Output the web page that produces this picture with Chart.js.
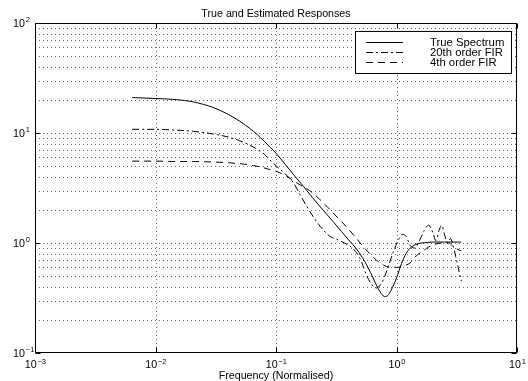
<!DOCTYPE html>
<html>
<head>
<meta charset="utf-8">
<script src="https://cdn.jsdelivr.net/npm/chart.js@4/dist/chart.umd.min.js"></script>
<style>
html,body{margin:0;padding:0;background:#fff;}
#wrap{width:528px;height:381px;position:relative;}
</style>
</head>
<body>
<div id="wrap"><canvas id="c" width="528" height="381"></canvas></div>
<script>
// ---- data ----
const trueFreq = [0.0064,0.01,0.015,0.02,0.025,0.03,0.04,0.05,0.06,0.07,0.08,0.09,0.1,0.12,0.142,0.17,0.2,0.25,0.3,0.35,0.4,0.46,0.52,0.58,0.64,0.7,0.75,0.8,0.85,0.9,0.95,1.0,1.05,1.1,1.2,1.3,1.45,1.6,1.8,2.0,2.5,3.0,3.45];
const trueMag  = [21,20.6,20.1,19.3,18.2,17.1,14.8,12.8,11.1,9.65,8.4,7.4,6.55,5.15,4.1,3.25,2.6,1.95,1.55,1.27,1.07,0.9,0.74,0.6,0.48,0.39,0.345,0.325,0.335,0.37,0.42,0.48,0.56,0.65,0.8,0.9,0.97,1.0,1.01,1.02,1.02,1.02,1.02];

const fir20Freq = [0.0064,0.01,0.015,0.02,0.03,0.04,0.05,0.06,0.07,0.08,0.095,0.115,0.139,0.16,0.18,0.21,0.247,0.28,0.32,0.37,0.43,0.5,0.56,0.62,0.68,0.74,0.8,0.87,0.95,1.03,1.12,1.2,1.3,1.42,1.55,1.7,1.85,2.0,2.12,2.25,2.38,2.5,2.65,2.8,2.95,3.1,3.25,3.45];
const fir20Mag  = [10.8,10.8,10.6,10.4,9.8,9.2,8.5,7.8,7.1,6.4,5.3,4.4,3.55,2.7,2.15,1.65,1.31,1.15,1.08,1.0,0.9,0.72,0.52,0.42,0.39,0.42,0.5,0.65,0.85,1.05,1.2,1.15,0.95,0.9,1.05,1.3,1.45,1.25,1.05,1.3,1.45,1.2,1.0,1.1,0.95,0.75,0.6,0.45];

const fir4Freq = [0.0064,0.01,0.015,0.02,0.03,0.042,0.055,0.065,0.075,0.086,0.1,0.12,0.139,0.16,0.19,0.23,0.27,0.33,0.39,0.45,0.52,0.6,0.68,0.78,0.9,1.0,1.15,1.3,1.47,1.67,1.85,2.05,2.4,2.7,2.95,3.2,3.45];
const fir4Mag  = [5.55,5.55,5.5,5.5,5.45,5.35,5.2,5.05,4.9,4.7,4.5,4.1,3.7,3.35,3.0,2.5,2.1,1.67,1.38,1.15,0.95,0.8,0.7,0.63,0.6,0.6,0.62,0.66,0.77,0.85,0.92,0.97,1.0,1.0,0.93,0.88,0.85];

const seriesNames = ['True Spectrum','20th order FIR','4th order FIR'];
const xTickExponents = [-3,-2,-1,0,1];
const yTickExponents = [-1,0,1,2];
const titleText = 'True and Estimated Responses';
const xAxisTitle = 'Frequency (Normalised)';

// ---- styles ----
const FONT = '"Liberation Sans", Arial, Helvetica, sans-serif';
const dashStyles = [[], [7,3,2,3], [7,5]];

function pts(fx, fy){ return fx.map((f,i)=>({x:f,y:fy[i]})); }

function supLabel(ctx, exp, x, y, align){
  const base = '10';
  const sup = exp < 0 ? '\u2212' + Math.abs(exp) : String(exp);
  ctx.font = '10.7px ' + FONT;
  const wb = ctx.measureText(base).width;
  ctx.font = '7.5px ' + FONT;
  const ws = ctx.measureText(sup).width;
  let left;
  if (align === 'center') left = x - (wb + ws)/2;
  else left = x - wb;
  ctx.textAlign = 'left';
  ctx.textBaseline = 'alphabetic';
  ctx.font = '10.7px ' + FONT;
  ctx.fillText(base, left, y);
  ctx.font = '7.5px ' + FONT;
  ctx.fillText(sup, left + wb + 0.8, y - 4.5);
}

const decor = {
  id: 'decor',
  beforeDatasetsDraw(chart){
    const {ctx, chartArea:a, scales:{x, y}} = chart;
    ctx.save();
    ctx.strokeStyle = 'rgba(0,0,0,0.6)';
    ctx.lineWidth = 1;
    ctx.setLineDash([1,3]);
    xTickExponents.slice(1,-1).forEach(e=>{
      const px = Math.round(x.getPixelForValue(Math.pow(10,e))) + 0.5;
      ctx.beginPath(); ctx.moveTo(px, a.top); ctx.lineTo(px, a.bottom); ctx.stroke();
    });
    for (let e = -1; e < 2; e++){
      for (let m = 1; m <= 9; m++){
        if (e === -1 && m === 1) continue;
        const v = m * Math.pow(10, e);
        const py = Math.round(y.getPixelForValue(v)) + 0.5;
        ctx.beginPath(); ctx.moveTo(a.left, py); ctx.lineTo(a.right, py); ctx.stroke();
      }
    }
    ctx.restore();
  },
  afterDatasetsDraw(chart){
    const {ctx, chartArea:a, scales:{x, y}} = chart;
    ctx.save();
    ctx.setLineDash([]);
    ctx.strokeStyle = '#000';
    ctx.fillStyle = '#000';
    ctx.lineWidth = 1;
    const L = Math.round(a.left)+0.5, R = Math.round(a.right)-0.5, T = Math.round(a.top)+0.5, B = Math.round(a.bottom)-0.5;
    ctx.strokeRect(L, T, R-L, B-T);
    const tl = 5;
    xTickExponents.forEach(e=>{
      const px = Math.round(x.getPixelForValue(Math.pow(10,e))) + 0.5;
      ctx.beginPath();
      ctx.moveTo(px, B); ctx.lineTo(px, B-tl);
      ctx.moveTo(px, T); ctx.lineTo(px, T+tl);
      ctx.stroke();
    });
    yTickExponents.forEach(e=>{
      const py = Math.round(y.getPixelForValue(Math.pow(10,e))) + 0.5;
      ctx.beginPath();
      ctx.moveTo(L, py); ctx.lineTo(L+tl, py);
      ctx.moveTo(R, py); ctx.lineTo(R-tl, py);
      ctx.stroke();
    });
    xTickExponents.forEach(e=>{
      const px = x.getPixelForValue(Math.pow(10,e));
      supLabel(ctx, e, px, 368, 'center');
    });
    yTickExponents.forEach(e=>{
      const py = y.getPixelForValue(Math.pow(10,e));
      supLabel(ctx, e, 25, py + 3.5, 'right');
    });
    ctx.font = '10.7px ' + FONT;
    ctx.textAlign = 'center';
    ctx.textBaseline = 'alphabetic';
    const cx = (a.left + a.right)/2;
    ctx.fillText(titleText, cx, 17);
    ctx.fillText(xAxisTitle, cx, 378.5);
    const lx = 355.5, ly = 31.5, lw = 156, lh = 42;
    ctx.fillStyle = '#fff';
    ctx.fillRect(lx, ly, lw, lh);
    ctx.strokeStyle = '#000';
    ctx.strokeRect(lx, ly, lw, lh);
    ctx.fillStyle = '#000';
    ctx.font = '11.3px ' + FONT;
    ctx.textAlign = 'left';
    ctx.textBaseline = 'middle';
    const rows = [42.5, 52.5, 62.5];
    seriesNames.forEach((n,i)=>{
      ctx.setLineDash(dashStyles[i]);
      ctx.beginPath(); ctx.moveTo(366, rows[i]); ctx.lineTo(403, rows[i]); ctx.stroke();
      ctx.setLineDash([]);
      ctx.fillText(n, 430, rows[i] + 0.5);
    });
    ctx.restore();
  }
};

const mk = (label, fx, fy, i) => ({
  label, data: pts(fx, fy),
  borderColor: '#000', borderWidth: 1, borderDash: dashStyles[i],
  pointRadius: 0, fill: false, cubicInterpolationMode: 'monotone'
});

new Chart(document.getElementById('c'), {
  type: 'line',
  data: { datasets: [
    mk(seriesNames[0], trueFreq, trueMag, 0),
    mk(seriesNames[1], fir20Freq, fir20Mag, 1),
    mk(seriesNames[2], fir4Freq, fir4Mag, 2)
  ]},
  options: {
    responsive: false, animation: false, devicePixelRatio: 1,
    layout: { padding: { top: 23, right: 11, left: 0, bottom: 0 } },
    plugins: { legend: {display:false}, title: {display:false}, tooltip: {enabled:false} },
    scales: {
      x: { type:'logarithmic', min:0.001, max:10,
           grid:{display:false}, border:{display:false}, ticks:{display:false},
           afterFit(s){ s.height = 28; } },
      y: { type:'logarithmic', min:0.1, max:100,
           grid:{display:false}, border:{display:false}, ticks:{display:false},
           afterFit(s){ s.width = 35; } }
    }
  },
  plugins: [decor]
});
</script>
</body>
</html>
